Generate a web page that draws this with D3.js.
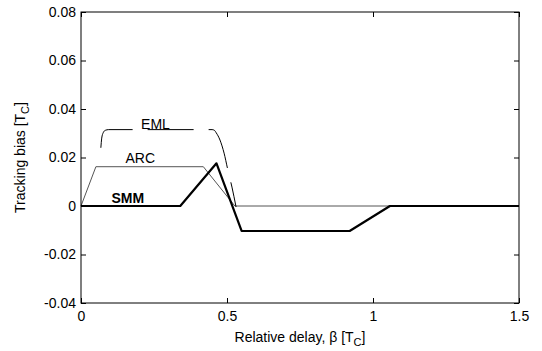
<!DOCTYPE html>
<html>
<head>
<meta charset="utf-8">
<script src="https://cdn.jsdelivr.net/npm/d3@7/dist/d3.min.js"></script>
<style>
  html, body { margin: 0; padding: 0; background: #fff; }
  svg { display: block; }
  text { font-family: "Liberation Sans", Arial, Helvetica, sans-serif; }
</style>
</head>
<body>
<script>
// ---- data ----
const xTicks = [0, 0.5, 1, 1.5];
const yTicks = [-0.04, -0.02, 0, 0.02, 0.04, 0.06, 0.08];

const smmBeta = [0, 0.34, 0.464, 0.55, 0.92, 1.058, 1.5];
const smmBias = [0, 0, 0.0176, -0.0103, -0.0103, 0, 0];

const arcBeta = [0, 0.051, 0.419, 0.527, 1.5];
const arcBias = [0, 0.0162, 0.0162, 0, 0];

const emlBeta = [0.068, 0.071, 0.076, 0.083, 0.095, 0.449, 0.457, 0.463, 0.476, 0.490, 0.503, 0.517, 0.531];
const emlBias = [0.024, 0.028, 0.0302, 0.0312, 0.0315, 0.0315, 0.0312, 0.0302, 0.0272, 0.0218, 0.0148, 0.0078, -0.0004];

const labels = [
  { text: "EML", beta: 0.255, bias: 0.0318, bold: false },
  { text: "ARC", beta: 0.203, bias: 0.0176, bold: false },
  { text: "SMM", beta: 0.16, bias: 0.0014, bold: true }
];

// ---- layout ----
const W = 542, H = 351;
const m = { left: 81, top: 12, right: 23, bottom: 48 };
const iw = W - m.left - m.right, ih = H - m.top - m.bottom;

const svg = d3.select("body").append("svg").attr("width", W).attr("height", H);
const g = svg.append("g").attr("transform", `translate(${m.left},${m.top})`);

const x = d3.scaleLinear().domain([0, 1.5]).range([0, iw]);
const y = d3.scaleLinear().domain([-0.04, 0.08]).range([ih, 0]);

const fmtY = d => d === 0 ? "0" : d3.format(".2f")(d).replace("−", "-");
const fmtX = d => d3.format("")(d);

function styleAxis(sel) {
  sel.select(".domain").remove();
  sel.selectAll(".tick line").attr("stroke", "#000").attr("stroke-width", 1);
  sel.selectAll("text").attr("font-size", 14).attr("fill", "#000");
}

g.append("g").attr("transform", `translate(0,${ih})`)
  .call(d3.axisBottom(x).tickValues(xTicks).tickFormat(fmtX).tickSizeInner(-5).tickSizeOuter(0).tickPadding(8))
  .call(styleAxis);
g.append("g")
  .call(d3.axisTop(x).tickValues(xTicks).tickFormat("").tickSizeInner(-5).tickSizeOuter(0))
  .call(styleAxis);
g.append("g")
  .call(d3.axisLeft(y).tickValues(yTicks).tickFormat(fmtY).tickSizeInner(-5).tickSizeOuter(0).tickPadding(5))
  .call(styleAxis);
g.append("g").attr("transform", `translate(${iw},0)`)
  .call(d3.axisRight(y).tickValues(yTicks).tickFormat("").tickSizeInner(-5).tickSizeOuter(0))
  .call(styleAxis);

// ---- curves ----
const line = d3.line().x(d => x(d[0])).y(d => y(d[1]));
const lineSmooth = d3.line().x(d => x(d[0])).y(d => y(d[1])).curve(d3.curveMonotoneX);

g.append("path").datum(arcBeta.map((b, i) => [b, arcBias[i]]))
  .attr("d", line).attr("fill", "none").attr("stroke", "#555").attr("stroke-width", 1);

g.append("path").datum(emlBeta.map((b, i) => [b, emlBias[i]]))
  .attr("d", lineSmooth).attr("fill", "none").attr("stroke", "#000").attr("stroke-width", 1)
  .attr("stroke-dasharray", "46,15");

g.append("path").datum(smmBeta.map((b, i) => [b, smmBias[i]]))
  .attr("d", line).attr("fill", "none").attr("stroke", "#000").attr("stroke-width", 2.2)
  .attr("stroke-linejoin", "round");

// ---- frame ----
g.append("rect").attr("x", 0).attr("y", 0).attr("width", iw).attr("height", ih)
  .attr("fill", "none").attr("stroke", "#000").attr("stroke-width", 1);

// ---- curve labels ----
g.selectAll(".lbl").data(labels).enter().append("text")
  .attr("x", d => x(d.beta)).attr("y", d => y(d.bias))
  .attr("text-anchor", "middle").attr("font-size", 14)
  .attr("font-weight", d => d.bold ? "bold" : "normal")
  .text(d => d.text);

// ---- axis titles ----
const xt = svg.append("text").attr("x", m.left + iw / 2).attr("y", 342)
  .attr("text-anchor", "middle").attr("font-size", 14);
xt.append("tspan").text("Relative delay, β [T");
xt.append("tspan").attr("font-size", 11).attr("dy", 4).text("C");
xt.append("tspan").attr("dy", -4).text("]");

const yt = svg.append("text").attr("transform", `translate(25,${m.top + ih / 2}) rotate(-90)`)
  .attr("text-anchor", "middle").attr("font-size", 14);
yt.append("tspan").text("Tracking bias [T");
yt.append("tspan").attr("font-size", 11).attr("dy", 4).text("C");
yt.append("tspan").attr("dy", -4).text("]");
</script>
</body>
</html>
